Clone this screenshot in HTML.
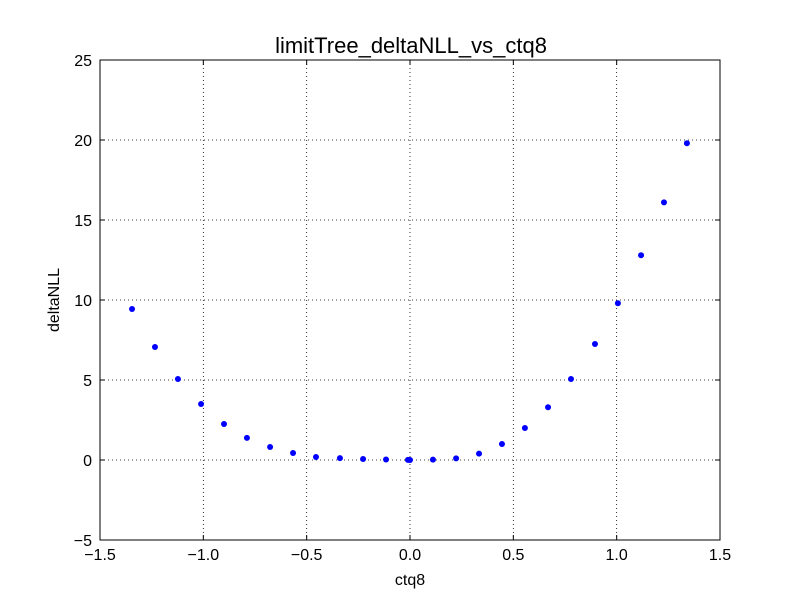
<!DOCTYPE html>
<html><head><meta charset="utf-8"><style>
body{margin:0;background:#fff;}
svg{font-family:"Liberation Sans","DejaVu Sans",sans-serif;}
</style></head><body>
<svg id="chart" width="800" height="600" viewBox="0 0 800 600">
<rect width="800" height="600" fill="#fff"/>
<g id="grid"></g>
<g id="points"></g>
<rect x="100" y="60" width="620" height="480" fill="none" stroke="#000" stroke-width="1"/>
<g id="ticks"></g>
<text x="411" y="53" font-size="22" text-anchor="middle">limitTree_deltaNLL_vs_ctq8</text>
<text x="410" y="585" font-size="16" text-anchor="middle">ctq8</text>
<text x="59" y="300" font-size="16" text-anchor="middle" transform="rotate(-90 59 300)">deltaNLL</text>
</svg>
<script>
const xTicks=[-1.5,-1.0,-0.5,0.0,0.5,1.0,1.5];
const xTickLabels=["\u22121.5","\u22121.0","\u22120.5","0.0","0.5","1.0","1.5"];
const yTicks=[-5,0,5,10,15,20,25];
const yTickLabels=["\u22125","0","5","10","15","20","25"];
const ctq8=[-1.345,-1.234,-1.123,-1.011,-0.9,-0.789,-0.677,-0.566,-0.455,-0.339,-0.227,-0.116,-0.01,0,0.111,0.223,0.334,0.445,0.556,0.668,0.779,0.895,1.006,1.118,1.229,1.34];
const deltaNLL=[9.44,7.06,5.06,3.5,2.25,1.38,0.81,0.44,0.19,0.12,0.06,0.03,0.01,0,0.02,0.1,0.4,1.0,2.0,3.3,5.06,7.25,9.8,12.8,16.1,19.8];
const L=100,R=720,T=60,B=540;
const sx=v=>L+(v+1.5)/3*(R-L);
const sy=v=>B-(v+5)/30*(B-T);
const NS="http://www.w3.org/2000/svg";
function mk(tag,attrs,parent){const e=document.createElementNS(NS,tag);for(const k in attrs)e.setAttribute(k,attrs[k]);parent.appendChild(e);return e;}
const grid=document.getElementById('grid'),ticks=document.getElementById('ticks'),pts=document.getElementById('points');
xTicks.forEach((v,i)=>{const x=sx(v);
 const g=mk('line',{x1:x,x2:x,y1:T,y2:B,stroke:'#000','stroke-dasharray':'1,3','stroke-width':0.8},grid);
 
 
 const t1=mk('line',{x1:x,x2:x,y1:B,y2:B-5,stroke:'#000'},ticks);
 
 
 const t2=mk('line',{x1:x,x2:x,y1:T,y2:T+5,stroke:'#000'},ticks);
 
 
 const tx=mk('text',{x:x,y:B+20,'font-size':16,'text-anchor':'middle'},ticks);tx.textContent=xTickLabels[i];
 
 
});
yTicks.forEach((v,i)=>{const y=sy(v);
 const g=mk('line',{x1:L,x2:R,y1:y,y2:y,stroke:'#000','stroke-dasharray':'1,3','stroke-width':0.8},grid);
 
 
 const t1=mk('line',{x1:L,x2:L+5,y1:y,y2:y,stroke:'#000'},ticks);
 
 
 const t2=mk('line',{x1:R,x2:R-5,y1:y,y2:y,stroke:'#000'},ticks);
 
 
 const tx=mk('text',{x:L-8,y:y+6,'font-size':16,'text-anchor':'end'},ticks);tx.textContent=yTickLabels[i];
 
 
});
ctq8.forEach((v,i)=>{
 const c=mk('circle',{cx:sx(v),cy:sy(deltaNLL[i]),r:3,fill:'#0000ff'},pts);
 
 
});
</script>
</body></html>
